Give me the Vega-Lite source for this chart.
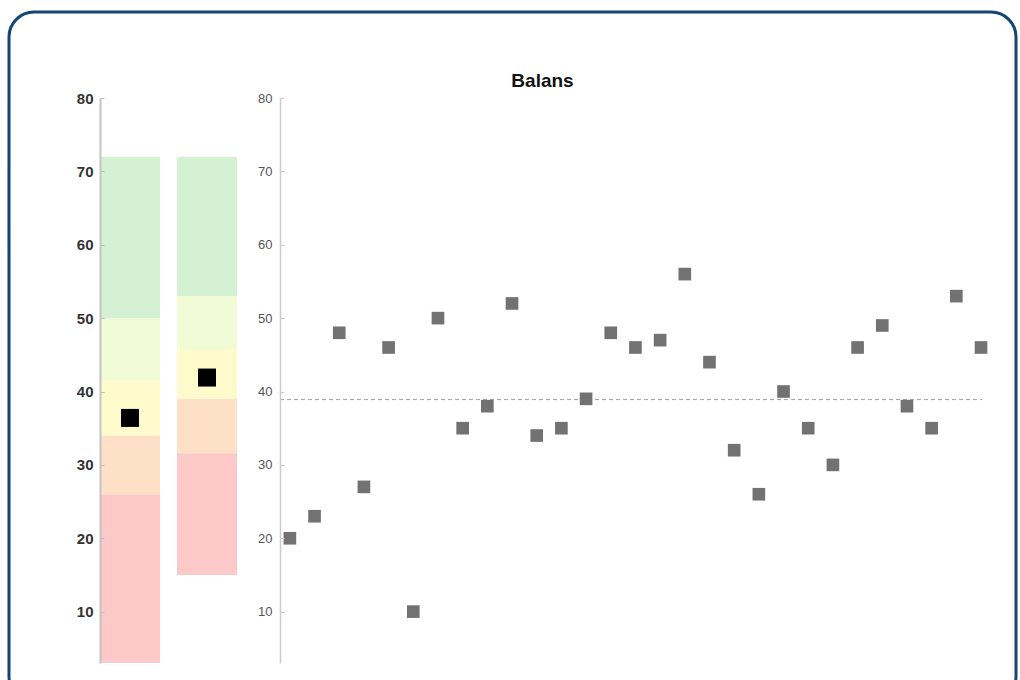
{
  "$schema": "https://vega.github.io/schema/vega-lite/v6.json",
  "width": 1007,
  "height": 690,
  "autosize": {"type": "none"},
  "padding": {"left": 9, "top": 12, "right": 4, "bottom": 0},
  "background": "white",
  "config": {
    "view": {"stroke": "#134677", "strokeWidth": 3, "cornerRadius": 25},
    "font": "Liberation Sans"
  },
  "title": {
    "text": "Balans",
    "fontSize": 19,
    "fontWeight": "bold",
    "color": "#111111",
    "anchor": "middle",
    "offset": 0,
    "baseline": "middle",
    "dx": 30,
    "dy": 88
  },
  "datasets": {
    "zones": [
      {"bar": "1", "zone": "rood", "lo": 3, "hi": 26},
      {"bar": "1", "zone": "oranje", "lo": 26, "hi": 34},
      {"bar": "1", "zone": "geel", "lo": 34, "hi": 41.5},
      {"bar": "1", "zone": "lichtgroen", "lo": 41.5, "hi": 50},
      {"bar": "1", "zone": "groen", "lo": 50, "hi": 72},
      {"bar": "2", "zone": "rood", "lo": 15, "hi": 31.6},
      {"bar": "2", "zone": "oranje", "lo": 31.6, "hi": 39},
      {"bar": "2", "zone": "geel", "lo": 39, "hi": 45.8},
      {"bar": "2", "zone": "lichtgroen", "lo": 45.8, "hi": 53},
      {"bar": "2", "zone": "groen", "lo": 53, "hi": 72}
    ],
    "markers": [
      {"bar": "1", "value": 36.4},
      {"bar": "2", "value": 41.9}
    ],
    "mean": [{"value": 38.9, "start": 0.6, "end": 29.04}],
    "scores": [
      {"index": 1, "value": 20}, {"index": 2, "value": 23}, {"index": 3, "value": 48},
      {"index": 4, "value": 27}, {"index": 5, "value": 46}, {"index": 6, "value": 10},
      {"index": 7, "value": 50}, {"index": 8, "value": 35}, {"index": 9, "value": 38},
      {"index": 10, "value": 52}, {"index": 11, "value": 34}, {"index": 12, "value": 35},
      {"index": 13, "value": 39}, {"index": 14, "value": 48}, {"index": 15, "value": 46},
      {"index": 16, "value": 47}, {"index": 17, "value": 56}, {"index": 18, "value": 44},
      {"index": 19, "value": 32}, {"index": 20, "value": 26}, {"index": 21, "value": 40},
      {"index": 22, "value": 35}, {"index": 23, "value": 30}, {"index": 24, "value": 46},
      {"index": 25, "value": 49}, {"index": 26, "value": 38}, {"index": 27, "value": 35},
      {"index": 28, "value": 53}, {"index": 29, "value": 46}
    ]
  },
  "layer": [
    {
      "data": {"name": "zones"},
      "mark": {"type": "bar"},
      "encoding": {
        "x": {
          "field": "bar", "type": "nominal",
          "scale": {"domain": ["1", "2"], "range": [91, 228], "paddingInner": 0.221, "paddingOuter": 0},
          "axis": null
        },
        "y": {
          "field": "lo", "type": "quantitative",
          "scale": {"domain": [3, 80], "range": [651, 86], "nice": false, "zero": false},
          "axis": {
            "orient": "left", "offset": -91, "zindex": 1,
            "values": [10, 20, 30, 40, 50, 60, 70, 80],
            "title": null, "grid": false,
            "domainColor": "#c4c4c4", "domainWidth": 2,
            "tickColor": "#bbbbbb", "tickSize": -4,
            "labelPadding": 11, "labelFontSize": 15, "labelFontWeight": "bold", "labelColor": "#333333"
          }
        },
        "y2": {"field": "hi"},
        "color": {
          "field": "zone", "type": "nominal",
          "scale": {
            "domain": ["rood", "oranje", "geel", "lichtgroen", "groen"],
            "range": ["#fdc9c8", "#fde0c6", "#fefacb", "#f1fbd6", "#d4f1d4"]
          },
          "legend": null
        }
      }
    },
    {
      "data": {"name": "markers"},
      "mark": {"type": "point", "shape": "square", "filled": true, "size": 324, "color": "#000000", "opacity": 1},
      "encoding": {
        "x": {
          "field": "bar", "type": "nominal",
          "scale": {"type": "band", "domain": ["1", "2"], "range": [91, 228], "paddingInner": 0.221, "paddingOuter": 0},
          "axis": null
        },
        "y": {
          "field": "value", "type": "quantitative",
          "scale": {"domain": [3, 80], "range": [651, 86], "nice": false, "zero": false},
          "axis": null
        }
      }
    },
    {
      "data": {"name": "mean"},
      "mark": {"type": "rule", "color": "#a0a0a0", "strokeDash": [4, 3], "strokeWidth": 1},
      "encoding": {
        "x": {
          "field": "start", "type": "quantitative",
          "scale": {"domain": [0.6, 29.04], "range": [271, 973], "nice": false, "zero": false},
          "axis": null
        },
        "x2": {"field": "end"},
        "y": {
          "field": "value", "type": "quantitative",
          "scale": {"domain": [3, 80], "range": [651, 86], "nice": false, "zero": false},
          "axis": null
        }
      }
    },
    {
      "data": {"name": "scores"},
      "mark": {"type": "point", "shape": "square", "filled": true, "size": 160, "color": "#727272", "opacity": 1},
      "encoding": {
        "x": {
          "field": "index", "type": "quantitative",
          "scale": {"domain": [0.6, 29.04], "range": [271, 973], "nice": false, "zero": false},
          "axis": null
        },
        "y": {
          "field": "value", "type": "quantitative",
          "scale": {"domain": [3, 80], "range": [651, 86], "nice": false, "zero": false},
          "axis": {
            "orient": "left", "offset": -271, "zindex": 1,
            "values": [10, 20, 30, 40, 50, 60, 70, 80],
            "title": null, "grid": false,
            "domainColor": "#cccccc", "domainWidth": 1.5,
            "tickColor": "#cccccc", "tickSize": -4,
            "labelPadding": 12, "labelFontSize": 13, "labelColor": "#555555"
          }
        }
      }
    }
  ],
  "resolve": {
    "scale": {"x": "independent", "y": "independent"},
    "axis": {"x": "independent", "y": "independent"}
  }
}
